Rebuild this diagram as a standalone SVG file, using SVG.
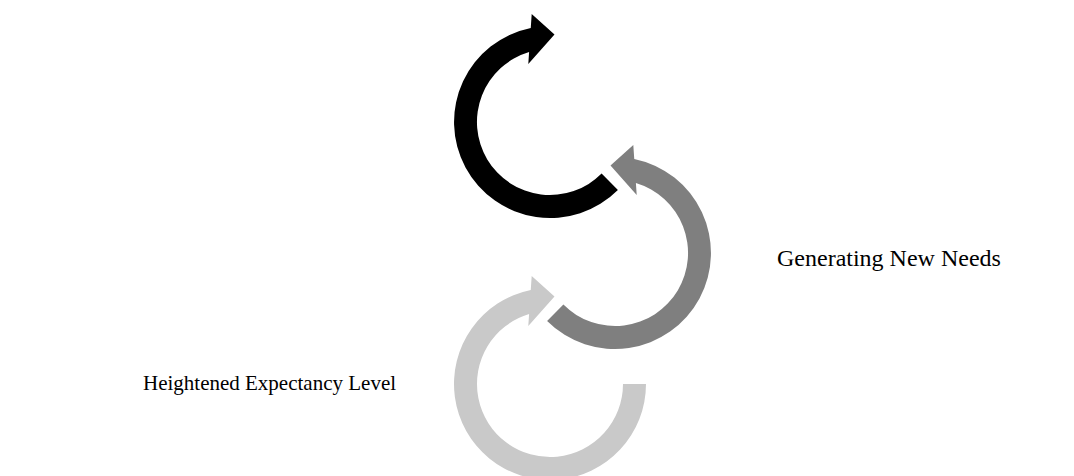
<svg xmlns="http://www.w3.org/2000/svg" width="1074" height="476" viewBox="0 0 1074 476">
<style>
.lbl{font-family:"Liberation Serif","Times New Roman",serif;font-size:24px;fill:#000}
.lbl-sm{font-size:21px}
</style>
<rect width="1074" height="476" fill="#fff"/>
<g id="connectors">
<g id="arrow-top">
<path d="M617.9,189.9 A96,96 0 1 1 530.75,27.95 L531.7,14 L554.5,34.5 L528.3,64 L529.1,52.05 A73,73 0 1 0 601.6,173.6 Z" fill="#000"/>
</g>
<g id="arrow-middle">
<path d="M547.1,320.9 A96,96 0 1 0 634.25,158.95 L633.3,145 L610.5,165.5 L636.7,195 L635.9,183.05 A73,73 0 1 1 563.4,304.6 Z" fill="#7f7f7f"/>
</g>
<g id="arrow-bottom">
<path d="M646,384 A96,96 0 1 1 530.75,289.95 L531.7,276 L554.5,296.5 L528.3,326 L529.1,314.05 A73,73 0 1 0 623,384 Z" fill="#c9c9c9"/>
</g>
</g>
<g id="node-generating">
<text class="lbl" x="777" y="266">Generating New Needs</text>
</g>
<g id="node-heightened">
<text class="lbl lbl-sm" x="143" y="390">Heightened Expectancy Level</text>
</g>
</svg>
